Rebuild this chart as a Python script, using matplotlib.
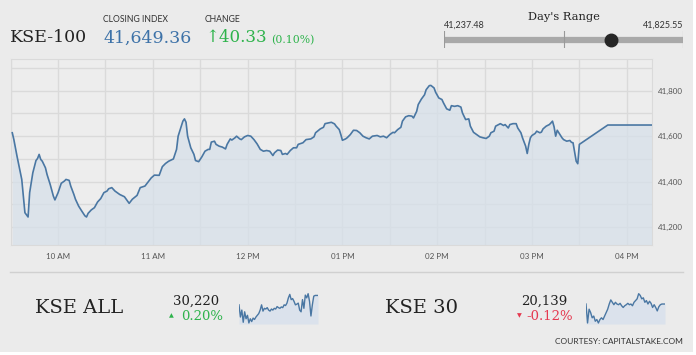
import matplotlib.pyplot as plt
from matplotlib.patches import Rectangle

# KSE-100 intraday trace
times = ["09:31", "09:32", "09:34", "09:37", "09:38", "09:39", "09:41", "09:42", "09:44", "09:46",
         "09:47", "09:48", "09:49", "09:50", "09:52", "09:53", "09:55", "09:57", "09:58", "10:00",
         "10:02", "10:04", "10:05", "10:07", "10:08", "10:10", "10:11", "10:13", "10:15", "10:17",
         "10:18", "10:19", "10:21", "10:23", "10:25", "10:27", "10:29", "10:31", "10:32", "10:34",
         "10:36", "10:39", "10:42", "10:45", "10:47", "10:50", "10:52", "10:55", "10:57", "10:59",
         "11:01", "11:04", "11:06", "11:08", "11:10", "11:13", "11:15", "11:16", "11:18", "11:19",
         "11:20", "11:21", "11:22", "11:24", "11:26", "11:27", "11:29", "11:31", "11:33", "11:35",
         "11:36", "11:37", "11:39", "11:40", "11:42", "11:44", "11:46", "11:47", "11:49", "11:50",
         "11:52", "11:53", "11:55", "11:56", "11:58", "12:00", "12:02", "12:04", "12:06", "12:08",
         "12:10", "12:12", "12:14", "12:16", "12:17", "12:19", "12:21", "12:22", "12:24", "12:25",
         "12:27", "12:29", "12:31", "12:32", "12:35", "12:37", "12:40", "12:42", "12:43", "12:46",
         "12:48", "12:49", "12:51", "12:53", "12:55", "12:56", "12:58", "12:59", "13:00", "13:02",
         "13:03", "13:05", "13:07", "13:09", "13:11", "13:13", "13:15", "13:17", "13:19", "13:22",
         "13:24", "13:26", "13:28", "13:30", "13:32", "13:33", "13:35", "13:37", "13:38", "13:40",
         "13:42", "13:44", "13:45", "13:47", "13:48", "13:50", "13:52", "13:53", "13:55", "13:56",
         "13:58", "13:59", "14:01", "14:03", "14:04", "14:06", "14:08", "14:09", "14:11", "14:13",
         "14:15", "14:16", "14:18", "14:20", "14:21", "14:23", "14:25", "14:27", "14:29", "14:31",
         "14:33", "14:34", "14:36", "14:37", "14:39", "14:40", "14:42", "14:43", "14:45", "14:46",
         "14:48", "14:50", "14:51", "14:53", "14:54", "14:56", "14:57", "14:58", "14:59", "15:00",
         "15:02", "15:03", "15:05", "15:06", "15:07", "15:09", "15:11", "15:12", "15:13", "15:14",
         "15:15", "15:16", "15:17", "15:19", "15:20", "15:22", "15:24", "15:25", "15:26", "15:27",
         "15:28", "15:29", "15:30", "15:48", "16:16"]
kse100 = [41615, 41585, 41512, 41410, 41337, 41264, 41245, 41352, 41439, 41493,
          41502, 41520, 41498, 41490, 41461, 41432, 41388, 41337, 41320, 41352,
          41393, 41403, 41410, 41406, 41381, 41344, 41323, 41293, 41271, 41250,
          41245, 41261, 41276, 41286, 41311, 41326, 41352, 41359, 41369, 41374,
          41359, 41344, 41334, 41305, 41323, 41340, 41374, 41381, 41399, 41417,
          41429, 41428, 41466, 41480, 41490, 41500, 41542, 41600, 41644, 41666,
          41676, 41661, 41600, 41549, 41520, 41493, 41488, 41509, 41534, 41542,
          41542, 41574, 41578, 41564, 41556, 41552, 41544, 41564, 41588, 41583,
          41593, 41600, 41588, 41585, 41597, 41603, 41600, 41585, 41566, 41542,
          41534, 41537, 41534, 41515, 41527, 41539, 41537, 41520, 41524, 41520,
          41537, 41549, 41549, 41564, 41571, 41585, 41588, 41597, 41615, 41632,
          41639, 41655, 41658, 41661, 41654, 41644, 41629, 41607, 41582, 41588,
          41593, 41607, 41626, 41625, 41615, 41600, 41593, 41588, 41600, 41603,
          41597, 41600, 41593, 41607, 41617, 41615, 41629, 41639, 41666, 41685,
          41690, 41688, 41680, 41709, 41739, 41763, 41782, 41804, 41822, 41823,
          41812, 41793, 41768, 41761, 41746, 41720, 41714, 41734, 41731, 41734,
          41728, 41702, 41673, 41676, 41644, 41617, 41607, 41597, 41593, 41590,
          41600, 41615, 41622, 41644, 41651, 41655, 41647, 41651, 41636, 41651,
          41655, 41655, 41636, 41615, 41593, 41556, 41524, 41564, 41593, 41603,
          41612, 41622, 41615, 41618, 41632, 41644, 41651, 41658, 41666, 41641,
          41600, 41626, 41615, 41593, 41585, 41578, 41581, 41573, 41571, 41530,
          41490, 41479, 41564, 41649, 41649]

y_ticks = [41200, 41400, 41600, 41800]
x_ticks = [10, 11, 12, 13, 14, 15, 16]
x_labels = ["10 AM", "11 AM", "12 PM", "01 PM", "02 PM", "03 PM", "04 PM"]

closing = "41,649.36"
change = "40.33"
change_pct = "(0.10%)"
day_low, day_high, last = 41237.48, 41825.55, 41649.36

# sparklines (relative heights only, no axis in the picture)
kse_all_spark = [60, 25, 45, 10, 40, 20, 30, 8, 20, 12, 22, 18, 25, 30, 35, 45, 60, 42, 50, 48,
                 52, 45, 42, 48, 45, 50, 48, 55, 52, 50, 54, 52, 60, 58, 65, 80, 90, 75, 78, 70,
                 60, 62, 65, 45, 40, 75, 50, 88, 80, 92, 70, 28, 60, 85, 87, 87, 87]
kse30_spark = [60, 5, 45, 35, 20, 25, 10, 15, 5, 15, 20, 15, 25, 35, 45, 60, 72, 65, 58, 65,
               60, 58, 62, 55, 50, 55, 58, 62, 58, 60, 55, 65, 70, 75, 90, 85, 75, 78, 65, 70,
               60, 68, 62, 50, 58, 50, 40, 52, 58, 60, 60, 60]

W, H = 696, 355
BG = "#ebebeb"
LINE = "#4a77a3"
FILL = "#d6e0ea"


def to_hours(s):
    h, m = s.split(":")
    return int(h) + int(m) / 60


def fx(x):
    return x / W


def fy(y):
    return 1 - y / H


hours = [to_hours(t) for t in times]

fig = plt.figure(figsize=(W / 100, H / 100), dpi=100, facecolor="white")
fig.patches.append(Rectangle((0, fy(352)), fx(693), 1 - fy(352), transform=fig.transFigure,
                             facecolor=BG, edgecolor="none", zorder=-10))

# main chart
ax = fig.add_axes([fx(10.7), fy(245), fx(651.7) - fx(10.7), fy(59) - fy(245)])
ax.set_facecolor("#ededed")
ax.plot(hours, kse100, color=LINE, lw=1.2, zorder=3)
ymin, ymax = 41122, 41939
ax.fill_between(hours, kse100, ymin, color=FILL, alpha=0.7, lw=0, zorder=2)
ax.set_xlim(to_hours("09:31"), 16 + 15.8 / 60)
ax.set_ylim(ymin, ymax)
ax.set_yticks(y_ticks)
ax.set_yticks(range(41200, 41901, 100), minor=True)
ax.yaxis.tick_right()
ax.set_yticklabels([f"{v:,}" for v in y_ticks])
ax.set_xticks(x_ticks)
ax.set_xticks([h + 0.5 for h in range(9, 16)], minor=True)
ax.set_xticklabels(x_labels)
ax.grid(True, which="both", color="#dadada", lw=1, zorder=0)
ax.tick_params(which="both", length=0, labelsize=5.8, labelcolor="#555555")
ax.tick_params(axis="y", pad=4.5)
ax.tick_params(axis="x", pad=6)
for lab in ax.get_xticklabels() + ax.get_yticklabels():
    lab.set_family("Lato")
for sp in ax.spines.values():
    sp.set_color("#dadada")

# header
serif = "DejaVu Serif"
fig.text(fx(10), fy(37), "KSE-100", family=serif, fontsize=12.5, color="#222222", va="center")
fig.text(fx(103), fy(20), "CLOSING INDEX", family="Lato", fontsize=6.2, color="#333333", va="center")
fig.text(fx(103), fy(38), closing, family=serif, fontsize=12.5, color="#3d72a8", va="center")
fig.text(fx(205), fy(20), "CHANGE", family="Lato", fontsize=6.2, color="#333333", va="center")
fig.text(fx(205), fy(38), "\u2191" + change, family=serif, fontsize=12, color="#2db34b", va="center")
fig.text(fx(271), fy(40), change_pct, family=serif, fontsize=7.8, color="#2db34b", va="center")

fig.text(fx(564), fy(17), "Day's Range", family=serif, fontsize=8.2, color="#222222",
         ha="center", va="center")
fig.text(fx(444), fy(25), f"{day_low:,.2f}", family="Lato", fontsize=6.5, color="#333333", va="center")
fig.text(fx(683), fy(25), f"{day_high:,.2f}", family="Lato", fontsize=6.5, color="#333333",
         ha="right", va="center")
rng = fig.add_axes([fx(444), fy(48), fx(683) - fx(444), fy(31) - fy(48)])
rng.set_xlim(day_low, day_high)
rng.set_ylim(-1, 1)
rng.axis("off")
rng.plot([day_low, day_high], [0, 0], color="#a9a9a9", lw=4.5, solid_capstyle="butt")
for v in [day_low, (day_low + day_high) / 2, day_high]:
    rng.plot([v, v], [-1, 1], color="#999999", lw=0.8)
rng.plot([last], [0], "o", color="#262626", ms=9)

# bottom strip
fig.add_artist(plt.Line2D([fx(10), fx(683)], [fy(272), fy(272)], color="#d0d0d0", lw=1))


def index_block(name, x_name, x_val, value, pct, color, marker, spark, x_sp):
    fig.text(fx(x_name), fy(308), name, family=serif, fontsize=14, color="#222222", va="center")
    fig.text(fx(x_val), fy(301), value, family=serif, fontsize=9.5, color="#222222",
             ha="center", va="center")
    fig.text(fx(x_val + 6), fy(317), pct, family=serif, fontsize=9.5, color=color,
             ha="center", va="center")
    fig.text(fx(x_val - 25), fy(316), marker, fontsize=4.5, color=color, ha="center", va="center")
    sa = fig.add_axes([fx(x_sp), fy(324), fx(79), fy(293) - fy(324)])
    sa.plot(range(len(spark)), spark, color=LINE, lw=1)
    sa.fill_between(range(len(spark)), spark, min(spark) - 3, color="#dbe2ec", lw=0)
    sa.set_xlim(0, len(spark) - 1)
    sa.set_ylim(min(spark) - 3, max(spark) + 2)
    sa.axis("off")


index_block("KSE ALL", 35, 196, "30,220", "0.20%", "#2db34b", "\u25b2", kse_all_spark, 239)
index_block("KSE 30", 385, 544, "20,139", "-0.12%", "#e5384f", "\u25bc", kse30_spark, 586)

fig.text(fx(683), fy(341), "COURTESY: CAPITALSTAKE.COM", family="Lato", fontsize=6,
         color="#333333", ha="right", va="center")

fig.savefig("out.png", dpi=100, facecolor=fig.get_facecolor())
